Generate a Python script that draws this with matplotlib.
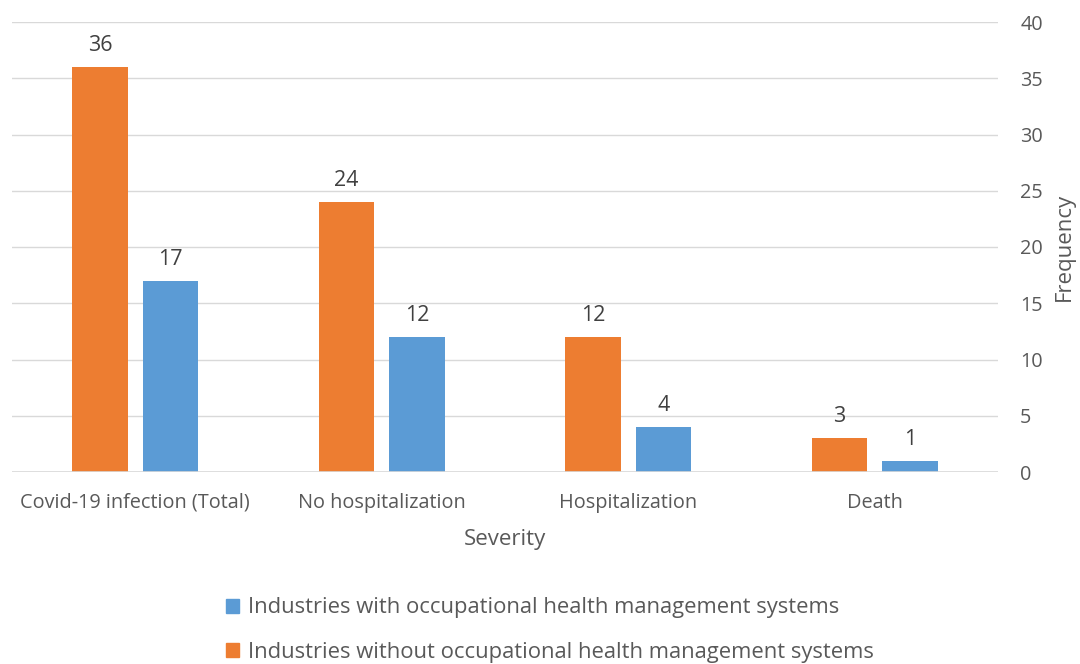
import numpy as np
import matplotlib.pyplot as plt
from matplotlib.patches import Patch

categories = ["Covid-19 infection (Total)", "No hospitalization", "Hospitalization", "Death"]
without_ohms = [36, 24, 12, 3]
with_ohms = [17, 12, 4, 1]
yticks = [0, 5, 10, 15, 20, 25, 30, 35, 40]

ORANGE = "#ED7D31"
BLUE = "#5B9BD5"
TEXT = "#595959"

plt.rcParams['font.family'] = ['Open Sans', 'DejaVu Sans']
plt.rcParams['font.size'] = 13

fig = plt.figure(figsize=(10.8, 6.64), dpi=100)
ax = fig.add_axes([12 / 1080, 1 - 472 / 664, (998 - 12) / 1080, 450 / 664])

x = np.arange(len(categories))
w = 0.225
off = 0.143
b1 = ax.bar(x - off, without_ohms, w, color=ORANGE, zorder=3)
b2 = ax.bar(x + off, with_ohms, w, color=BLUE, zorder=3)

for bars in (b1, b2):
    for rect in bars:
        ax.annotate(f"{rect.get_height():g}", (rect.get_x() + rect.get_width() / 2, rect.get_height()),
                    xytext=(0, 8), textcoords="offset points", ha="center", va="bottom",
                    color="#404040", fontsize=15.5)

ax.set_xlim(-0.5, len(categories) - 0.5)
ax.set_ylim(0, 40)
ax.set_xticks(x)
ax.set_xticklabels(categories, color=TEXT, fontsize=14.3)
ax.set_yticks(yticks)
ax.yaxis.tick_right()
ax.yaxis.set_label_position("right")
ax.tick_params(axis="y", length=0, pad=16, labelcolor=TEXT, labelsize=14.3)
ax.tick_params(axis="x", length=0, pad=15, labelcolor=TEXT)
ax.grid(axis="y", color="#D9D9D9", lw=1, zorder=0)
for s in ax.spines.values():
    s.set_visible(False)
ax.axhline(0, color="#D9D9D9", lw=1.2, zorder=4)

ax.set_xlabel("Severity", color=TEXT, fontsize=16, labelpad=12)
ax.set_ylabel("Frequency", color=TEXT, fontsize=16, labelpad=8)

handles = [Patch(color=BLUE, label="Industries with occupational health management systems"),
           Patch(color=ORANGE, label="Industries without occupational health management systems")]
leg = fig.legend(handles=handles, loc="center", bbox_to_anchor=(550 / 1080, 1 - 630 / 664),
                 frameon=False, fontsize=15.8, labelspacing=1.05, handlelength=0.6, handleheight=0.6,
                 handletextpad=0.4)
for t in leg.get_texts():
    t.set_color(TEXT)

fig.savefig("out.png", dpi=100)
